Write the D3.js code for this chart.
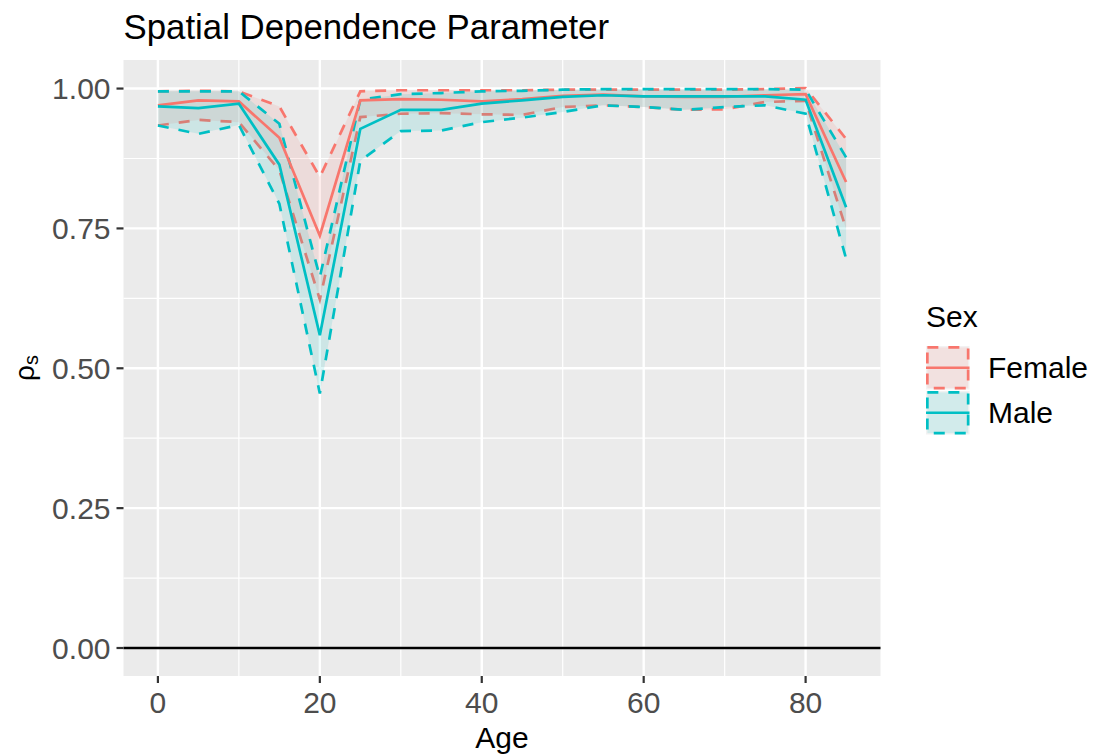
<!DOCTYPE html>
<html>
<head>
<meta charset="utf-8">
<script src="https://cdn.jsdelivr.net/npm/d3@7"></script>
<style>
  html, body { margin: 0; padding: 0; background: #fff; }
  svg text { font-family: "Liberation Sans", Arial, sans-serif; }
</style>
</head>
<body>
<div id="chart"></div>
<script>
// Ages on the x axis
const ages = [0, 5, 10, 15, 20, 25, 30, 35, 40, 45, 50, 55, 60, 65, 70, 75, 80, 85];

// Posterior mean and interval bounds
const femaleMean  = [0.970, 0.979, 0.977, 0.912, 0.737, 0.979, 0.981, 0.980, 0.977, 0.981, 0.987, 0.989, 0.986, 0.985, 0.985, 0.988, 0.990, 0.833];
const femaleUpper = [0.995, 0.996, 0.995, 0.968, 0.842, 0.995, 0.997, 0.997, 0.997, 0.997, 0.998, 0.998, 0.998, 0.998, 0.998, 0.999, 1.001, 0.910];
const femaleLower = [0.934, 0.944, 0.940, 0.854, 0.623, 0.949, 0.955, 0.956, 0.954, 0.953, 0.967, 0.970, 0.967, 0.962, 0.963, 0.976, 0.978, 0.749];
const maleMean    = [0.968, 0.965, 0.973, 0.864, 0.559, 0.928, 0.962, 0.962, 0.973, 0.979, 0.985, 0.988, 0.986, 0.986, 0.986, 0.986, 0.980, 0.788];
const maleUpper   = [0.995, 0.995, 0.995, 0.937, 0.663, 0.980, 0.990, 0.992, 0.995, 0.996, 0.998, 0.999, 0.999, 0.999, 0.999, 0.999, 0.998, 0.877];
const maleLower   = [0.934, 0.919, 0.935, 0.794, 0.455, 0.871, 0.924, 0.925, 0.940, 0.948, 0.958, 0.970, 0.967, 0.962, 0.967, 0.970, 0.955, 0.696];

const xTicks = [0, 20, 40, 60, 80];
const xMinor = [10, 30, 50, 70];
const yTicks = [0, 0.25, 0.5, 0.75, 1.0];
const yMinor = [0.125, 0.375, 0.625, 0.875];
const yTickLabels = ["0.00", "0.25", "0.50", "0.75", "1.00"];

const sexes = ["Female", "Male"];
const colors = { Female: "#F8766D", Male: "#00BFC4" };

const W = 1095, H = 755;
const panel = { left: 123.5, right: 880.5, top: 60, bottom: 676 };

const svg = d3.select("#chart").append("svg")
  .attr("width", W)
  .attr("height", H);

// ggplot-style expanded domains (5% each side)
const xr = d3.extent(ages);
const xPad = (xr[1] - xr[0]) * 0.05;
const x = d3.scaleLinear()
  .domain([xr[0] - xPad, xr[1] + xPad])
  .range([panel.left, panel.right]);

const yMax = d3.max(femaleUpper.concat(maleUpper));
const yPad = (yMax - 0) * 0.05;
const y = d3.scaleLinear()
  .domain([0 - yPad, yMax + yPad])
  .range([panel.bottom, panel.top]);

// panel background
svg.append("rect")
  .attr("x", panel.left)
  .attr("y", panel.top)
  .attr("width", panel.right - panel.left)
  .attr("height", panel.bottom - panel.top)
  .attr("fill", "#EBEBEB");

// grid lines
const grid = svg.append("g");
yMinor.forEach(v => {
  grid.append("line")
    .attr("x1", panel.left).attr("x2", panel.right)
    .attr("y1", y(v)).attr("y2", y(v))
    .attr("stroke", "#fff").attr("stroke-width", 1.2);
});
xMinor.forEach(v => {
  grid.append("line")
    .attr("y1", panel.top).attr("y2", panel.bottom)
    .attr("x1", x(v)).attr("x2", x(v))
    .attr("stroke", "#fff").attr("stroke-width", 1.2);
});
yTicks.forEach(v => {
  grid.append("line")
    .attr("x1", panel.left).attr("x2", panel.right)
    .attr("y1", y(v)).attr("y2", y(v))
    .attr("stroke", "#fff").attr("stroke-width", 2.4);
});
xTicks.forEach(v => {
  grid.append("line")
    .attr("y1", panel.top).attr("y2", panel.bottom)
    .attr("x1", x(v)).attr("x2", x(v))
    .attr("stroke", "#fff").attr("stroke-width", 2.4);
});

// series records built from the arrays
const series = {
  Female: ages.map((a, i) => ({ age: a, mean: femaleMean[i], lo: femaleLower[i], hi: femaleUpper[i] })),
  Male:   ages.map((a, i) => ({ age: a, mean: maleMean[i],   lo: maleLower[i],   hi: maleUpper[i] }))
};

const area = d3.area()
  .x(d => x(d.age))
  .y0(d => y(d.lo))
  .y1(d => y(d.hi));
const lineMean = d3.line().x(d => x(d.age)).y(d => y(d.mean));
const lineLo = d3.line().x(d => x(d.age)).y(d => y(d.lo));
const lineHi = d3.line().x(d => x(d.age)).y(d => y(d.hi));

const dash = "11,10";
const lw = 2.7;

// ribbons: fill then dashed upper/lower outline, one group at a time
sexes.forEach(s => {
  const g = svg.append("g");
  g.append("path")
    .datum(series[s])
    .attr("d", area)
    .attr("fill", colors[s])
    .attr("fill-opacity", 0.13);
  [lineHi, lineLo].forEach(gen => {
    g.append("path")
      .datum(series[s])
      .attr("d", gen)
      .attr("fill", "none")
      .attr("stroke", colors[s])
      .attr("stroke-width", lw)
      .attr("stroke-dasharray", dash);
  });
});

// mean lines
sexes.forEach(s => {
  svg.append("path")
    .datum(series[s])
    .attr("d", lineMean)
    .attr("fill", "none")
    .attr("stroke", colors[s])
    .attr("stroke-width", lw);
});

// reference line at zero
svg.append("line")
  .attr("x1", panel.left).attr("x2", panel.right)
  .attr("y1", y(0)).attr("y2", y(0))
  .attr("stroke", "#000")
  .attr("stroke-width", lw);

// y axis ticks + labels
yTicks.forEach((v, i) => {
  svg.append("line")
    .attr("x1", panel.left - 7).attr("x2", panel.left)
    .attr("y1", y(v)).attr("y2", y(v))
    .attr("stroke", "#333").attr("stroke-width", 2.2);
  svg.append("text")
    .attr("x", panel.left - 13)
    .attr("y", y(v) + 10.5)
    .attr("text-anchor", "end")
    .attr("font-size", 30)
    .attr("fill", "#4D4D4D")
    .text(yTickLabels[i]);
});

// x axis ticks + labels
xTicks.forEach(v => {
  svg.append("line")
    .attr("x1", x(v)).attr("x2", x(v))
    .attr("y1", panel.bottom).attr("y2", panel.bottom + 7)
    .attr("stroke", "#333").attr("stroke-width", 2.2);
  svg.append("text")
    .attr("x", x(v))
    .attr("y", 713)
    .attr("text-anchor", "middle")
    .attr("font-size", 30)
    .attr("fill", "#4D4D4D")
    .text(v);
});

// axis titles
svg.append("text")
  .attr("x", (panel.left + panel.right) / 2)
  .attr("y", 748)
  .attr("text-anchor", "middle")
  .attr("font-size", 30)
  .attr("fill", "#000")
  .text("Age");

const yt = svg.append("text")
  .attr("transform", `translate(34,${(panel.top + panel.bottom) / 2}) rotate(-90)`)
  .attr("text-anchor", "middle")
  .attr("fill", "#000");
yt.append("tspan").attr("font-size", 28).text("ρ");
yt.append("tspan").attr("font-size", 20).attr("dy", 4).text("s");

// plot title
svg.append("text")
  .attr("x", panel.left)
  .attr("y", 39)
  .attr("font-size", 34.8)
  .attr("fill", "#000")
  .text("Spatial Dependence Parameter");

// legend
const leg = svg.append("g");
leg.append("text")
  .attr("x", 926)
  .attr("y", 327)
  .attr("font-size", 30)
  .attr("fill", "#000")
  .text("Sex");

const keySize = 43.5, keyX = 926, keyY0 = 346;
sexes.forEach((s, i) => {
  const ky = keyY0 + i * (keySize + 1.5);
  leg.append("rect")
    .attr("x", keyX).attr("y", ky)
    .attr("width", keySize).attr("height", keySize)
    .attr("fill", "#F2F2F2");
  leg.append("rect")
    .attr("x", keyX + 1.35).attr("y", ky + 1.35)
    .attr("width", keySize - 2.7).attr("height", keySize - 2.7)
    .attr("fill", colors[s])
    .attr("fill-opacity", 0.13)
    .attr("stroke", colors[s])
    .attr("stroke-width", lw)
    .attr("stroke-dasharray", dash);
  leg.append("line")
    .attr("x1", keyX).attr("x2", keyX + keySize)
    .attr("y1", ky + keySize / 2).attr("y2", ky + keySize / 2)
    .attr("stroke", colors[s])
    .attr("stroke-width", lw);
  leg.append("text")
    .attr("x", 988)
    .attr("y", ky + keySize / 2 + 10.5)
    .attr("font-size", 30)
    .attr("fill", "#000")
    .text(s);
});
</script>
</body>
</html>
